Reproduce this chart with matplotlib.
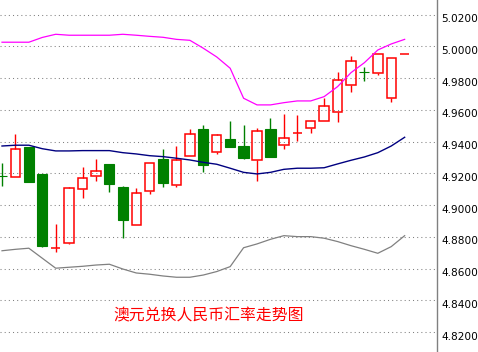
import matplotlib
matplotlib.use("Agg")
import matplotlib.pyplot as plt
from matplotlib.patches import Rectangle
from matplotlib.transforms import ScaledTranslation
import numpy as np

# ---- data ----
opens  = [4.9187, 4.9176, 4.9367, 4.9197, 4.8729, 4.8764, 4.9100, 4.9182, 4.9260, 4.9115,
          4.8873, 4.9090, 4.9289, 4.9126, 4.9308, 4.9480, 4.9333, 4.9417, 4.9373, 4.9283,
          4.9478, 4.9378, 4.9452, 4.9485, 4.9529, 4.9586, 4.9756, 4.9840, 4.9831, 4.9674,
          4.9950]
highs  = [4.9268, 4.9451, 4.9367, 4.9197, 4.8882, 4.9113, 4.9241, 4.9291, 4.9260, 4.9121,
          4.9108, 4.9264, 4.9354, 4.9373, 4.9480, 4.9505, 4.9449, 4.9531, 4.9505, 4.9485,
          4.9550, 4.9575, 4.9568, 4.9531, 4.9676, 4.9839, 4.9940, 4.9873, 4.9951, 4.9926,
          4.9952]
lows   = [4.9123, 4.9176, 4.9148, 4.8739, 4.8707, 4.8758, 4.9047, 4.9155, 4.9085, 4.8792,
          4.8873, 4.9073, 4.9117, 4.9117, 4.9308, 4.9211, 4.9325, 4.9369, 4.9291, 4.9155,
          4.9306, 4.9356, 4.9407, 4.9457, 4.9529, 4.9522, 4.9712, 4.9785, 4.9822, 4.9649,
          4.9950]
closes = [4.9185, 4.9352, 4.9148, 4.8745, 4.8731, 4.9107, 4.9170, 4.9214, 4.9136, 4.8909,
          4.9075, 4.9264, 4.9138, 4.9283, 4.9447, 4.9255, 4.9441, 4.9369, 4.9299, 4.9466,
          4.9306, 4.9422, 4.9454, 4.9531, 4.9623, 4.9789, 4.9907, 4.9838, 4.9951, 4.9926,
          4.9952]
upper  = [5.0027, 5.0027, 5.0027, 5.0057, 5.0077, 5.0071, 5.0071, 5.0071, 5.0071, 5.0077,
          5.0071, 5.0064, 5.0058, 5.0045, 5.0039, 4.9989, 4.9934, 4.9863, 4.9674, 4.9632,
          4.9632, 4.9646, 4.9657, 4.9657, 4.9684, 4.9747, 4.9835, 4.9898, 4.9978, 5.0016,
          5.0045]
middle = [4.9373, 4.9378, 4.9378, 4.9356, 4.9342, 4.9342, 4.9344, 4.9344, 4.9344, 4.9331,
          4.9323, 4.9312, 4.9306, 4.9296, 4.9285, 4.9270, 4.9258, 4.9233, 4.9207, 4.9197,
          4.9207, 4.9226, 4.9233, 4.9233, 4.9236, 4.9260, 4.9283, 4.9304, 4.9331, 4.9373,
          4.9428]
lower  = [4.8713, 4.8722, 4.8729, 4.8666, 4.8603, 4.8609, 4.8615, 4.8623, 4.8628, 4.8598,
          4.8573, 4.8565, 4.8554, 4.8546, 4.8546, 4.8560, 4.8582, 4.8613, 4.8732, 4.8756,
          4.8785, 4.8808, 4.8802, 4.8802, 4.8792, 4.8771, 4.8745, 4.8722, 4.8697, 4.8739,
          4.8808]
yticks = [4.82, 4.84, 4.86, 4.88, 4.90, 4.92, 4.94, 4.96, 4.98, 5.00, 5.02]
title = "澳元兑换人民币汇率走势图"

RED = "#ff0000"
GREEN = "#008000"

fig = plt.figure(figsize=(4.78, 3.52), dpi=100)
ax = fig.add_axes([0, 0, 437 / 478, 1])
ax.set_xlim(-0.149, 32.41)
ax.set_ylim(4.8075, 5.0293)

x = np.arange(len(opens))
ax.plot(x, upper, color="#ff00ff", lw=0.9, zorder=4)
ax.plot(x, middle, color="#000080", lw=1.0, zorder=4)
ax.plot(x, lower, color="#808080", lw=0.9, zorder=4)

for i, (o, h, l, c) in enumerate(zip(opens, highs, lows, closes)):
    up = c >= o
    col = RED if up else GREEN
    top, bot = max(o, c), min(o, c)
    if h > top:
        ax.plot([i, i], [top, h], color=col, lw=1.0, zorder=3, solid_capstyle="butt")
    if l < bot:
        ax.plot([i, i], [l, bot], color=col, lw=1.0, zorder=3, solid_capstyle="butt")
    if up:
        w = 0.70
        ax.add_patch(Rectangle((i - w / 2, bot), w, top - bot, facecolor="none",
                               edgecolor=col, lw=1.1, zorder=3))
    else:
        w = 0.76
        ax.add_patch(Rectangle((i - w / 2, bot), w, top - bot, facecolor=col,
                               edgecolor=col, lw=0.8, zorder=3))

ax.set_yticks(yticks)
ax.set_yticklabels([f"{v:.4f}" for v in yticks])
ax.yaxis.tick_right()
ax.tick_params(axis="y", length=0, pad=3, labelsize=7.6, labelcolor="black")
ax.set_xticks([])
for lab in ax.get_yticklabels():
    lab.set_transform(lab.get_transform() + ScaledTranslation(0, -2.5 / 72, fig.dpi_scale_trans))
ax.grid(axis="y", color="#808080", linestyle=(0, (1, 3)), lw=0.75)
for s in ["top", "bottom", "left"]:
    ax.spines[s].set_visible(False)
ax.spines["right"].set_color("#808080")
ax.spines["right"].set_linewidth(1.0)

fig.text(209 / 478, 1 - 315.5 / 352, title, color=RED, fontsize=11.4,
         family=["Noto Sans CJK SC", "DejaVu Sans"], ha="center", va="center")

fig.savefig("out.png", dpi=100, facecolor="white")
